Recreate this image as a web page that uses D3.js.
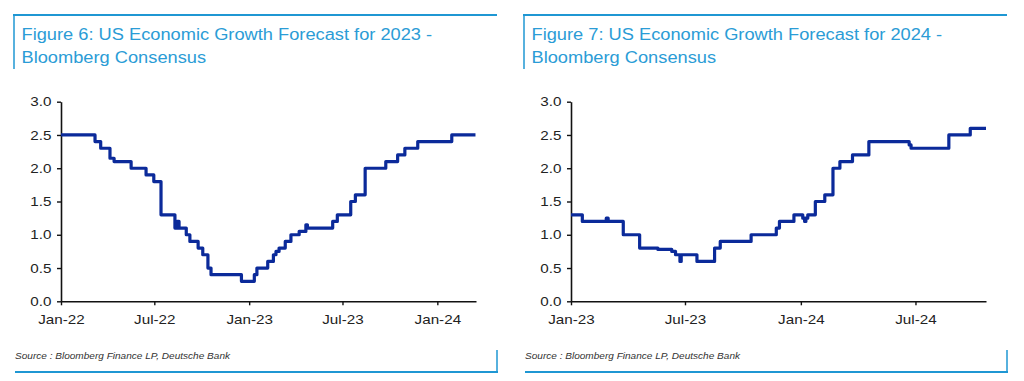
<!DOCTYPE html>
<html><head><meta charset="utf-8">
<script src="https://cdn.jsdelivr.net/npm/d3@7"></script>
<style>
html,body{margin:0;padding:0;background:#fff;}
svg{display:block;font-family:"Liberation Sans",Arial,sans-serif;}
</style></head>
<body><svg id="c" width="1024" height="381"></svg>
<script>
// ---- data ----
const fig6Title = ["Figure 6: US Economic Growth Forecast for 2023 -", "Bloomberg Consensus"];
const fig7Title = ["Figure 7: US Economic Growth Forecast for 2024 -", "Bloomberg Consensus"];
const sourceText = "Source : Bloomberg Finance LP, Deutsche Bank";

const f23Dates = ["2022-01-01","2022-03-08","2022-03-19","2022-04-06","2022-04-14","2022-05-17","2022-06-15","2022-06-30","2022-07-14","2022-08-10","2022-08-14","2022-08-18","2022-09-01","2022-09-08","2022-09-24","2022-10-03","2022-10-13","2022-10-19","2022-12-17","2023-01-11","2023-01-16","2023-02-06","2023-02-17","2023-02-22","2023-02-28","2023-03-12","2023-03-23","2023-04-08","2023-04-21","2023-04-24","2023-06-12","2023-06-21","2023-07-17","2023-07-26","2023-08-14","2023-09-23","2023-10-16","2023-10-30","2023-11-24","2024-01-29","2024-03-15"];
const f23Values = [2.5,2.4,2.3,2.15,2.1,2.0,1.9,1.8,1.3,1.1,1.2,1.1,1.0,0.9,0.8,0.7,0.5,0.4,0.3,0.4,0.5,0.6,0.7,0.75,0.8,0.9,1.0,1.05,1.15,1.1,1.2,1.3,1.5,1.6,2.0,2.1,2.2,2.3,2.4,2.5,2.5];

const f24Dates = ["2023-01-01","2023-01-19","2023-02-26","2023-03-01","2023-03-25","2023-04-20","2023-05-19","2023-06-10","2023-06-16","2023-06-23","2023-06-25","2023-07-20","2023-08-17","2023-08-26","2023-10-14","2023-11-23","2023-11-28","2023-12-21","2024-01-04","2024-01-07","2024-01-09","2024-01-12","2024-01-24","2024-02-08","2024-02-21","2024-03-03","2024-03-23","2024-04-18","2024-06-21","2024-06-24","2024-08-23","2024-09-26","2024-10-21"];
const f24Values = [1.3,1.2,1.25,1.2,1.0,0.8,0.78,0.75,0.7,0.6,0.7,0.6,0.8,0.9,1.0,1.1,1.2,1.3,1.25,1.2,1.25,1.3,1.5,1.6,2.0,2.1,2.2,2.4,2.35,2.3,2.5,2.6,2.6];

const yTicks = [0,0.5,1.0,1.5,2.0,2.5,3.0];
const f23XTicks = ["2022-01-01","2022-07-01","2023-01-01","2023-07-01","2024-01-01"];
const f24XTicks = ["2023-01-01","2023-07-01","2024-01-01","2024-07-01"];
const f23Domain = ["2022-01-01","2024-03-16"];
const f24Domain = ["2023-01-01","2024-10-21"];

// ---- drawing ----
const parse = d3.timeParse("%Y-%m-%d");
const svg = d3.select("#c");
const frameColor = "#1f97d3";
const titleColor = "#2b9cd6";
const lineColor = "#0b2a9a";
const stretch = 1.17; // reference glyphs are horizontally wide

function widen(sel, k){
  sel.each(function(){
    const w = this.getComputedTextLength();
    d3.select(this).attr("textLength", w * k).attr("lengthAdjust", "spacingAndGlyphs");
  });
}

function panel(ox, opts){
  const g = svg.append("g").attr("transform", `translate(${ox},0)`);
  g.append("line").attr("x1", opts.fx0).attr("x2", opts.fx1).attr("y1", 15).attr("y2", 15)
    .attr("stroke", frameColor).attr("stroke-width", 2);
  g.append("line").attr("x1", opts.fx0 + 1).attr("x2", opts.fx0 + 1).attr("y1", 15).attr("y2", 69)
    .attr("stroke", frameColor).attr("stroke-width", 1.5);
  g.append("line").attr("x1", opts.fx0 + 2).attr("x2", opts.fx1 + 1).attr("y1", 372).attr("y2", 372)
    .attr("stroke", frameColor).attr("stroke-width", 2);
  g.append("line").attr("x1", opts.fx1).attr("x2", opts.fx1).attr("y1", 350).attr("y2", 372)
    .attr("stroke", frameColor).attr("stroke-width", 1.5);
  const titles = g.selectAll("text.title").data(opts.title).join("text").attr("class", "title")
    .attr("x", opts.fx0 + 8.5).attr("y", (d, i) => 40 + i * 23)
    .attr("fill", titleColor).attr("font-size", 15.6).text(d => d);
  widen(titles, stretch);
  const src = g.append("text").attr("x", opts.fx0 + 2).attr("y", 359).attr("fill", "#333")
    .attr("font-size", 8.6).attr("font-style", "italic").text(sourceText);
  widen(src, stretch);

  const x = d3.scaleTime().domain(opts.domain.map(parse)).range([opts.ax0, opts.ax1]);
  const y = d3.scaleLinear().domain([0, 3]).range([301.3, 101.7]);

  const xa = g.append("g").attr("transform", "translate(0,301.3)")
    .call(d3.axisBottom(x).tickValues(opts.xticks.map(parse)).tickSize(4).tickSizeOuter(0)
      .tickFormat(d3.timeFormat("%b-%y")));
  const ya = g.append("g").attr("transform", `translate(${opts.ax0},0)`)
    .call(d3.axisLeft(y).tickValues(yTicks).tickSize(4).tickSizeOuter(0).tickFormat(d3.format(".1f")));
  [xa, ya].forEach(a => {
    a.select(".domain").attr("stroke", "#111").attr("stroke-width", 1.6);
    a.selectAll(".tick line").attr("stroke", "#111").attr("stroke-width", 1.4);
    a.selectAll(".tick text").attr("fill", "#222").attr("font-size", 13)
      .attr("font-family", "Liberation Sans, Arial, sans-serif");
  });
  xa.selectAll(".tick text").attr("dy", "1.2em");
  ya.selectAll(".tick text").attr("x", -9.5);
  widen(xa.selectAll(".tick text"), stretch);
  widen(ya.selectAll(".tick text"), stretch);

  const data = opts.dates.map((d, i) => ({d: parse(d), v: opts.values[i]}));
  const line = d3.line().x(d => x(d.d)).y(d => y(d.v)).curve(d3.curveStepAfter);
  g.append("path").datum(data).attr("d", line).attr("fill", "none")
    .attr("stroke", lineColor).attr("stroke-width", 3.2).attr("stroke-linejoin", "round");
}

panel(0, {fx0: 13, fx1: 497, title: fig6Title, domain: f23Domain, xticks: f23XTicks,
  ax0: 61, ax1: 476, dates: f23Dates, values: f23Values});
panel(510, {fx0: 13, fx1: 497, title: fig7Title, domain: f24Domain, xticks: f24XTicks,
  ax0: 61, ax1: 476, dates: f24Dates, values: f24Values});
</script>
</body></html>
